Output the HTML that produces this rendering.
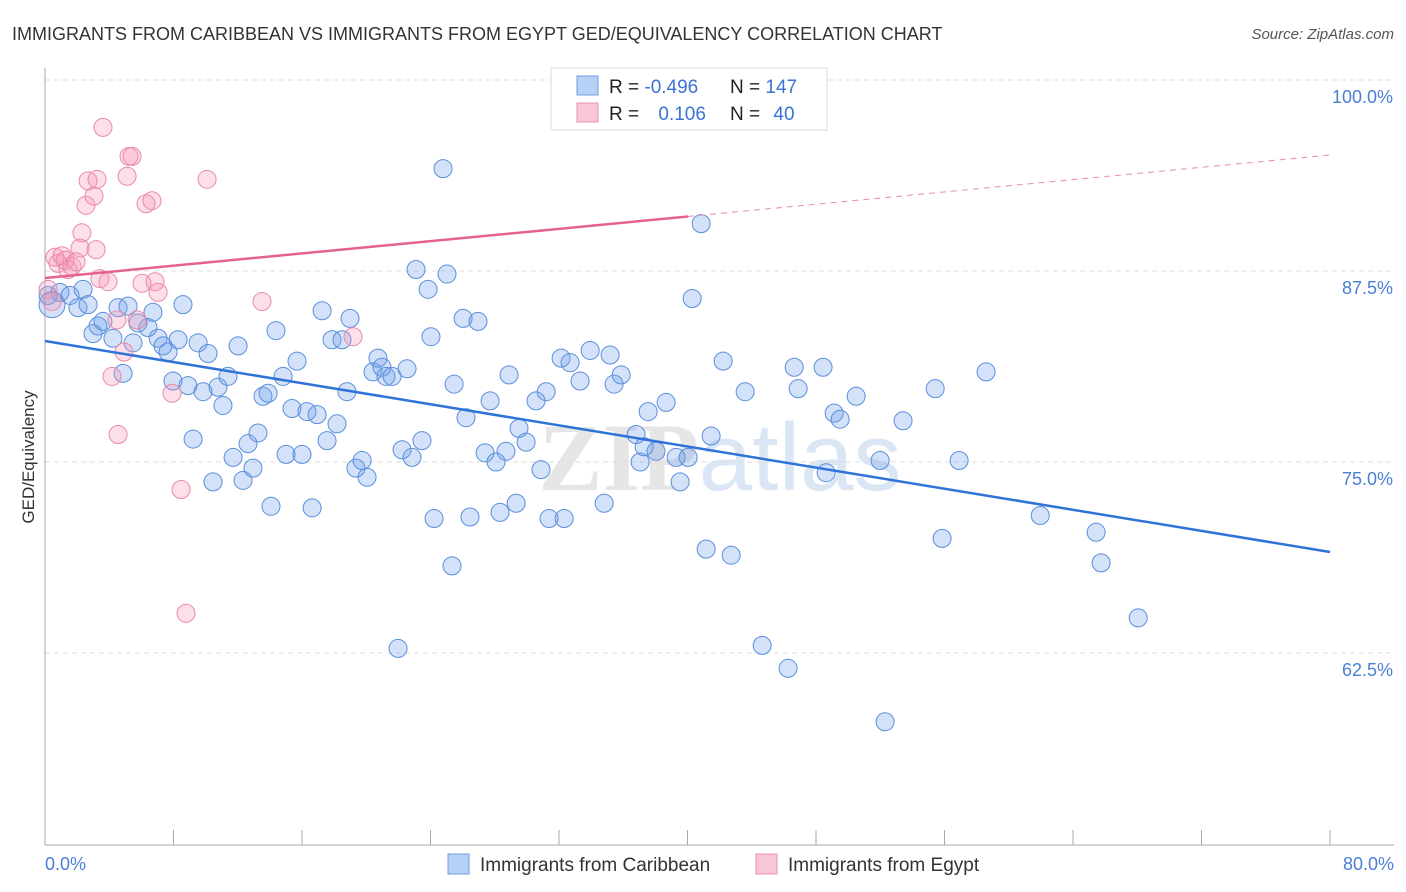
<!DOCTYPE html>
<html><head><meta charset="utf-8"><style>
body{margin:0;background:#fff;font-family:"Liberation Sans",sans-serif}
svg{display:block}
</style></head><body>
<svg id="chart" width="1406" height="892">
<text x="12" y="40" font-size="18" fill="#333">IMMIGRANTS FROM CARIBBEAN VS IMMIGRANTS FROM EGYPT GED/EQUIVALENCY CORRELATION CHART</text>
<text x="1394" y="39" font-size="15" fill="#555" font-style="italic" text-anchor="end">Source: ZipAtlas.com</text>
<text x="720" y="490" font-size="96" fill="#e6e6e6" text-anchor="middle" font-family="Liberation Serif" font-weight="bold">ZIP<tspan fill="#dbe6f5" font-family="Liberation Sans" font-weight="normal">atlas</tspan></text>
<g id="grid"></g><g id="axes"></g><g id="marks"></g>
<text transform="translate(34,457) rotate(-90)" font-size="17" fill="#333" text-anchor="middle">GED/Equivalency</text>
<text x="45" y="870" font-size="18" fill="#4a7fd6">0.0%</text>
<text x="1394" y="870" font-size="18" fill="#4a7fd6" text-anchor="end">80.0%</text>
<g>
<rect x="551" y="68" width="276" height="62" fill="#fff" stroke="#ddd"/>
<rect x="577" y="76" width="21" height="19" fill="#b8d0f3" stroke="#6d9ee6"/>
<rect x="577" y="103" width="21" height="19" fill="#f9c6d5" stroke="#eb93b0"/>
<text x="609" y="93" font-size="19" fill="#222">R = <tspan fill="#3a72d6">-0.496</tspan></text>
<text x="730" y="93" font-size="19" fill="#222">N = <tspan fill="#3a72d6">147</tspan></text>
<text x="609" y="120" font-size="19" fill="#222">R = <tspan fill="#3a72d6" dx="14">0.106</tspan></text>
<text x="730" y="120" font-size="19" fill="#222">N = <tspan fill="#3a72d6" dx="8">40</tspan></text>
</g>
<g>
<rect x="448" y="854" width="21" height="20" fill="#b8d0f3" stroke="#6d9ee6"/>
<text x="480" y="871" font-size="19" fill="#333">Immigrants from Caribbean</text>
<rect x="756" y="854" width="21" height="20" fill="#f9c6d5" stroke="#eb93b0"/>
<text x="788" y="871" font-size="19" fill="#333">Immigrants from Egypt</text>
</g>
</svg>
<script>
const blueX=[0.44,0.19,0.93,1.56,2.37,2.05,2.68,3.30,2.99,3.61,4.23,4.55,5.17,4.86,5.48,5.79,6.41,6.72,7.04,7.35,7.66,7.97,8.28,8.59,8.90,9.22,9.53,9.84,10.15,10.46,10.77,11.08,11.39,11.71,12.02,12.33,12.64,12.95,13.26,13.57,13.89,14.07,14.38,14.82,15.01,15.38,15.69,16.00,16.31,16.63,16.94,17.25,17.56,17.87,18.18,18.49,18.80,18.99,19.36,19.74,20.05,20.42,20.73,20.98,21.23,21.61,21.98,22.23,22.54,22.85,23.10,23.47,23.85,24.03,24.22,25.03,25.34,25.47,26.03,26.21,26.46,26.96,27.40,27.71,28.08,28.33,28.70,28.89,29.33,29.51,29.95,30.57,30.88,31.20,31.38,32.13,32.32,32.69,33.31,33.94,34.81,35.18,35.43,35.87,36.80,37.05,37.30,37.55,38.04,38.67,39.29,39.54,40.04,40.29,40.85,41.16,41.47,42.22,42.72,43.59,44.65,46.26,46.64,46.89,48.44,48.63,49.13,49.50,50.50,51.99,52.30,53.42,55.42,55.85,56.91,58.59,61.96,65.44,65.75,68.06,24.78];
const blueY=[85.3,85.9,86.1,85.9,86.3,85.1,85.3,83.9,83.4,84.2,83.1,85.1,85.2,80.8,82.8,84.1,83.8,84.8,83.1,82.6,82.2,80.3,83.0,85.3,80.0,76.5,82.8,79.6,82.1,73.7,79.9,78.7,80.6,75.3,82.6,73.8,76.2,74.6,76.9,79.3,79.5,72.1,83.6,80.6,75.5,78.5,81.6,75.5,78.3,72.0,78.1,84.9,76.4,83.0,77.5,83.0,79.6,84.4,74.6,75.1,74.0,80.9,81.8,81.2,80.6,80.6,62.8,75.8,81.1,75.3,87.6,76.4,86.3,83.2,71.3,87.3,68.2,80.1,84.4,77.9,71.4,84.2,75.6,79.0,75.0,71.7,75.7,80.7,72.3,77.2,76.3,79.0,74.5,79.6,71.3,81.8,71.3,81.5,80.3,82.3,72.3,82.0,80.1,80.7,76.8,75.0,76.0,78.3,75.7,78.9,75.3,73.7,75.3,85.7,90.6,69.3,76.7,81.6,68.9,79.6,63.0,61.5,81.2,79.8,81.2,74.3,78.2,77.8,79.3,75.1,58.0,77.7,79.8,70.0,75.1,80.9,71.5,70.4,68.4,64.8,94.2];
const pinkX=[0.19,0.44,0.62,0.81,1.06,1.25,1.43,1.68,1.93,2.18,2.30,2.55,2.68,3.05,3.18,3.24,3.42,3.61,3.92,4.17,4.48,4.55,4.92,5.11,5.23,5.42,5.73,6.04,6.29,6.66,6.85,7.04,7.91,8.47,8.78,10.09,13.51,19.18,39.23];
const pinkY=[86.3,85.5,88.4,88.0,88.5,88.2,87.6,87.8,88.1,89.0,90.0,91.8,93.4,92.4,88.9,93.5,87.0,96.9,86.8,80.6,84.3,76.8,82.2,93.7,95.0,95.0,84.3,86.7,91.9,92.1,86.8,86.1,79.5,73.2,65.1,93.5,85.5,83.2,100.1];
const blueTrend=[82.92,69.11];
const pinkTrend=[87.04,95.09];
const pinkSolidEnd=40.04;
const yTicks=[100,87.5,75,62.5];
const yTickLabels=["100.0%","87.5%","75.0%","62.5%"];
const xTicks=[0,8,16,24,32,40,48,56,64,72,80];

const NS="http://www.w3.org/2000/svg";
const xs=v=>45+v*1285/80;
const ys=v=>80+(100-v)*191/12.5;
function mk(tag,attrs,parent){const e=document.createElementNS(NS,tag);for(const k in attrs)e.setAttribute(k,attrs[k]);parent.appendChild(e);return e;}
const grid=document.getElementById('grid'),axes=document.getElementById('axes'),marks=document.getElementById('marks');
yTicks.forEach((t,i)=>{
  const l=mk('line',{x1:45,x2:1394,y1:ys(t),y2:ys(t),stroke:'#ddd','stroke-dasharray':'5,4'},grid);
  
  
  const tx=mk('text',{x:1393,y:ys(t)+23,'font-size':18,fill:'#4a7fd6','text-anchor':'end'},grid);
  tx.textContent=yTickLabels[i];
  
  
});
const ax=mk('line',{x1:45,x2:45,y1:68,y2:845,stroke:'#aaa'},axes);


const bx=mk('line',{x1:45,x2:1394,y1:845,y2:845,stroke:'#aaa'},axes);


xTicks.forEach(t=>{
  const l=mk('line',{x1:xs(t),x2:xs(t),y1:830,y2:845,stroke:'#aaa'},axes);
  
  
});
blueX.forEach((x,i)=>{
  const c=mk('circle',{cx:xs(x),cy:ys(blueY[i]),r:i===0?13:9,fill:'rgba(110,160,235,0.3)',stroke:'#5a8fdc','stroke-width':1},marks);
  
  
});
pinkX.forEach((x,i)=>{
  const c=mk('circle',{cx:xs(x),cy:ys(pinkY[i]),r:9,fill:'rgba(245,150,180,0.3)',stroke:'#e98aaa','stroke-width':1},marks);
  
  
});
const bt=mk('line',{x1:xs(0),y1:ys(blueTrend[0]),x2:xs(80),y2:ys(blueTrend[1]),stroke:'#2f72d8','stroke-width':2.5},marks);


const pAt=x=>pinkTrend[0]+(pinkTrend[1]-pinkTrend[0])*x/80;
const pt=mk('line',{x1:xs(0),y1:ys(pinkTrend[0]),x2:xs(pinkSolidEnd),y2:ys(pAt(pinkSolidEnd)),stroke:'#e5618f','stroke-width':2.5},marks);


const pd=mk('line',{x1:xs(pinkSolidEnd),y1:ys(pAt(pinkSolidEnd)),x2:xs(80),y2:ys(pinkTrend[1]),stroke:'#e98aaa','stroke-width':1,'stroke-dasharray':'6,5'},marks);


</script>
</body></html>
